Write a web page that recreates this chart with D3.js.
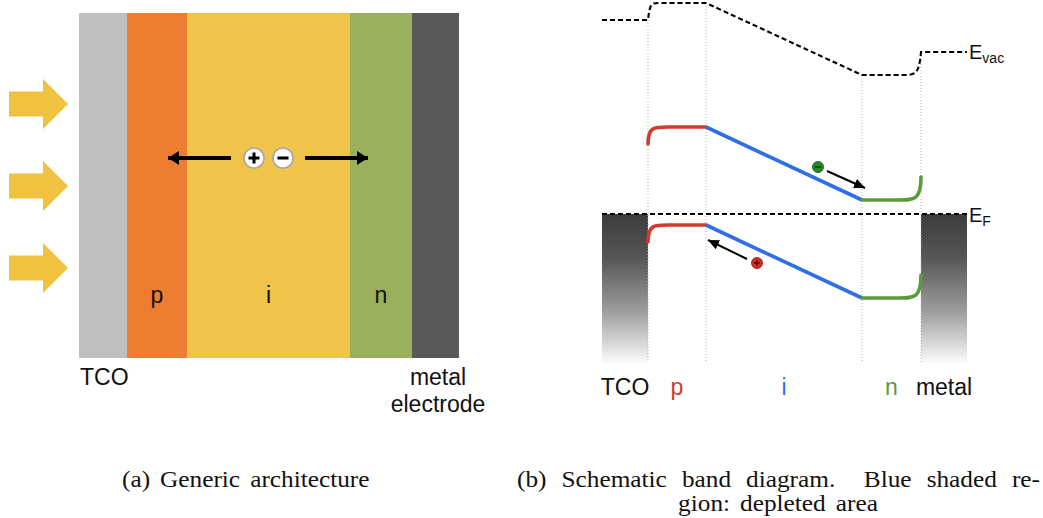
<!DOCTYPE html>
<html>
<head>
<meta charset="utf-8">
<script src="https://cdn.jsdelivr.net/npm/d3@7"></script>
<style>
  html, body { margin: 0; padding: 0; background: #fff; }
  svg { display: block; }
</style>
</head>
<body>
<svg id="fig" width="1043" height="518"></svg>
<script>
// ---------- (a) layer stack ----------
const layerNames  = ["TCO", "p", "i", "n", "metal"];
const layerEdges  = [0, 48, 108, 271, 333, 380];          // cumulative thickness (arb. units)
const layerColors = ["#bfbfbf", "#ed7d31", "#f0c34a", "#9bb05c", "#595959"];
const layerLabels = ["", "p", "i", "n", ""];
const rayRows     = [1, 2, 3];                            // incoming light arrows
const holeDrift   = [152, 89];                            // start, tip (layer units)
const elecDrift   = [226, 289];
const pairCenters = [175, 204];                           // + and − charges

// ---------- (b) band diagram ----------
const bandEdges   = [0, 46, 104, 260, 319, 365];          // TCO | p | i | n | metal
const regionNames = ["TCO", "p", "i", "n", "metal"];
const regionColors = ["#111", "#d33a2c", "#2f6fe6", "#5b9b3d", "#111"];
// levels: [TCO contact, p flat, n flat, metal contact]
const evacLevels  = [3.88, 4.22, 2.78, 3.24];
const cbLevels    = [1.40, 1.74, 0.28, 0.74];
const vbLevels    = [-0.56, -0.22, -1.68, -1.22];
const fermiLevel  = 0;
const contactDepth = -2.98;
const electron    = {x: 216, E: 0.94, from: [225, 0.86], to: [263, 0.52]};
const hole        = {x: 155, E: -0.98, from: [145, -0.90], to: [106, -0.52]};

// ---------- captions ----------
const captionA  = ["(a)", "Generic", "architecture"];
const captionB1 = ["(b)", "Schematic", "band", "diagram.", "Blue", "shaded", "re-"];
const captionB2 = ["gion:", "depleted", "area"];

const svg = d3.select("#fig");
const sans = "'Liberation Sans', Arial, Helvetica, sans-serif";
const serif = "'Liberation Serif', 'Times New Roman', serif";

const defs = svg.append("defs");
const grad = defs.append("linearGradient").attr("id", "contactGrad")
  .attr("x1", 0).attr("y1", 0).attr("x2", 0).attr("y2", 1);
grad.append("stop").attr("offset", "0").attr("stop-color", "#3c3c3c");
grad.append("stop").attr("offset", "0.3").attr("stop-color", "#575757");
grad.append("stop").attr("offset", "0.65").attr("stop-color", "#9c9c9c");
grad.append("stop").attr("offset", "1").attr("stop-color", "#fbfbfb");

function arrowHead(id, len, wid) {
  defs.append("marker").attr("id", id)
    .attr("viewBox", `0 0 ${len} ${wid}`)
    .attr("refX", len).attr("refY", wid / 2)
    .attr("markerWidth", len).attr("markerHeight", wid)
    .attr("markerUnits", "userSpaceOnUse")
    .attr("orient", "auto")
    .append("path").attr("d", `M0,0 L${len},${wid / 2} L0,${wid} Z`).attr("fill", "#000");
}
arrowHead("headBig", 11, 14);
arrowHead("headSmall", 11, 10);

// ===== panel (a) =====
const xA = d3.scaleLinear().domain([0, 380]).range([79, 459]);
const yTop = 13, yBot = 358;
const gA = svg.append("g");

gA.selectAll("rect.layer").data(layerNames).join("rect")
  .attr("class", "layer")
  .attr("x", (d, i) => xA(layerEdges[i]))
  .attr("y", yTop)
  .attr("width", (d, i) => xA(layerEdges[i + 1]) - xA(layerEdges[i]))
  .attr("height", yBot - yTop)
  .attr("fill", (d, i) => layerColors[i]);

gA.selectAll("text.layerLabel").data(layerLabels).join("text")
  .attr("class", "layerLabel")
  .attr("x", (d, i) => (xA(layerEdges[i]) + xA(layerEdges[i + 1])) / 2)
  .attr("y", 303)
  .attr("text-anchor", "middle")
  .attr("font-family", sans).attr("font-size", 23).attr("fill", "#111")
  .text(d => d);

// light arrows
const yRay = d3.scaleLinear().domain([1, 3]).range([104, 268]);
gA.selectAll("path.ray").data(rayRows).join("path")
  .attr("class", "ray")
  .attr("d", r => {
    const c = yRay(r);
    return `M9,${c - 12.5} L43,${c - 12.5} L43,${c - 25} L68,${c} L43,${c + 25} L43,${c + 12.5} L9,${c + 12.5} Z`;
  })
  .attr("fill", "#f0c240");

// carrier separation arrows
const yPair = 158;
gA.append("line").attr("x1", xA(holeDrift[0])).attr("x2", xA(holeDrift[1]))
  .attr("y1", yPair).attr("y2", yPair)
  .attr("stroke", "#000").attr("stroke-width", 4).attr("marker-end", "url(#headBig)");
gA.append("line").attr("x1", xA(elecDrift[0])).attr("x2", xA(elecDrift[1]))
  .attr("y1", yPair).attr("y2", yPair)
  .attr("stroke", "#000").attr("stroke-width", 4).attr("marker-end", "url(#headBig)");

gA.selectAll("circle.charge").data(pairCenters).join("circle")
  .attr("class", "charge")
  .attr("cx", d => xA(d)).attr("cy", yPair).attr("r", 10)
  .attr("fill", "#fff").attr("stroke", "#a8a8a8").attr("stroke-width", 1.6);
gA.append("path")
  .attr("d", `M${xA(pairCenters[0]) - 5.5},${yPair} h11 M${xA(pairCenters[0])},${yPair - 5.5} v11`)
  .attr("stroke", "#000").attr("stroke-width", 3);
gA.append("path")
  .attr("d", `M${xA(pairCenters[1]) - 5.5},${yPair} h11`)
  .attr("stroke", "#000").attr("stroke-width", 3);

gA.append("text").attr("x", 80).attr("y", 385)
  .attr("font-family", sans).attr("font-size", 23).attr("fill", "#111").text("TCO");
gA.append("text").attr("x", 438).attr("y", 385).attr("text-anchor", "middle")
  .attr("font-family", sans).attr("font-size", 23).attr("fill", "#111").text("metal");
gA.append("text").attr("x", 438).attr("y", 412).attr("text-anchor", "middle")
  .attr("font-family", sans).attr("font-size", 23).attr("fill", "#111").text("electrode");

// ===== panel (b) =====
const xB = d3.scaleLinear().domain([0, 365]).range([602, 967]);
const yB = d3.scaleLinear().domain([-3, 4.2]).range([364, 4]);
const gB = svg.append("g");

// contacts filled up to the Fermi level
gB.selectAll("rect.contact").data([[bandEdges[0], bandEdges[1]], [bandEdges[4], bandEdges[5]]]).join("rect")
  .attr("class", "contact")
  .attr("x", d => xB(d[0])).attr("width", d => xB(d[1]) - xB(d[0]))
  .attr("y", yB(fermiLevel)).attr("height", yB(contactDepth) - yB(fermiLevel))
  .attr("fill", "url(#contactGrad)");

// dotted interface guides, from the vacuum level down
gB.selectAll("line.guide").data(bandEdges.slice(1, 5)).join("line")
  .attr("class", "guide")
  .attr("x1", d => xB(d)).attr("x2", d => xB(d))
  .attr("y1", (d, i) => yB(evacLevels[i])).attr("y2", yB(contactDepth) - 1)
  .attr("stroke", "#b5b5b5").attr("stroke-width", 1).attr("stroke-dasharray", "1,2");

// band segment builders
function pSegment(l, bend) {
  const p = d3.path();
  const x1 = xB(bandEdges[1]), x2 = xB(bandEdges[2]);
  p.moveTo(x1, yB(l[0]));
  p.bezierCurveTo(x1, yB(l[1]), x1 + bend * 0.3, yB(l[1]), x1 + bend, yB(l[1]));
  p.lineTo(x2, yB(l[1]));
  return p;
}
function iSegment(l) {
  const p = d3.path();
  p.moveTo(xB(bandEdges[2]), yB(l[1]));
  p.lineTo(xB(bandEdges[3]), yB(l[2]));
  return p;
}
function nSegment(l, bend) {
  const p = d3.path();
  const x3 = xB(bandEdges[3]), x4 = xB(bandEdges[4]);
  p.moveTo(x3, yB(l[2]));
  p.lineTo(x4 - bend, yB(l[2]));
  p.bezierCurveTo(x4 - bend * 0.3, yB(l[2]), x4, yB(l[2]), x4, yB(l[3]));
  return p;
}

// vacuum level (dashed, continuous across the stack)
{
  const p = d3.path();
  const l = evacLevels;
  const x1 = xB(bandEdges[1]), x2 = xB(bandEdges[2]), x3 = xB(bandEdges[3]), x4 = xB(bandEdges[4]);
  const bL = 11, bR = 19;
  p.moveTo(xB(bandEdges[0]), yB(l[0]));
  p.lineTo(x1, yB(l[0]));
  p.bezierCurveTo(x1 + 2, yB(l[1]), x1 + bL * 0.3, yB(l[1]), x1 + bL, yB(l[1]));
  p.lineTo(x2, yB(l[1]));
  p.lineTo(x3, yB(l[2]));
  p.lineTo(x4 - bR, yB(l[2]));
  p.bezierCurveTo(x4 - bR * 0.3, yB(l[2]), x4 - 2, yB(l[2]), x4, yB(l[3]));
  p.lineTo(xB(bandEdges[5]), yB(l[3]));
  gB.append("path").attr("d", p.toString())
    .attr("fill", "none").attr("stroke", "#000").attr("stroke-width", 2.1)
    .attr("stroke-dasharray", "5,3");
}

// Fermi level
gB.append("line")
  .attr("x1", xB(bandEdges[0])).attr("x2", xB(bandEdges[5]))
  .attr("y1", yB(fermiLevel)).attr("y2", yB(fermiLevel))
  .attr("stroke", "#000").attr("stroke-width", 2.1).attr("stroke-dasharray", "5,3");

// conduction and valence bands
[cbLevels, vbLevels].forEach(l => {
  gB.append("path").attr("d", pSegment(l, 20).toString())
    .attr("fill", "none").attr("stroke", regionColors[1]).attr("stroke-width", 3.6).attr("stroke-linecap", "round");
  gB.append("path").attr("d", iSegment(l).toString())
    .attr("fill", "none").attr("stroke", regionColors[2]).attr("stroke-width", 3.6);
  gB.append("path").attr("d", nSegment(l, 22).toString())
    .attr("fill", "none").attr("stroke", regionColors[3]).attr("stroke-width", 3.6).attr("stroke-linecap", "round");
});

// carriers drifting in the built-in field
gB.append("line")
  .attr("x1", xB(electron.from[0])).attr("y1", yB(electron.from[1]))
  .attr("x2", xB(electron.to[0])).attr("y2", yB(electron.to[1]))
  .attr("stroke", "#000").attr("stroke-width", 2).attr("marker-end", "url(#headSmall)");
gB.append("line")
  .attr("x1", xB(hole.from[0])).attr("y1", yB(hole.from[1]))
  .attr("x2", xB(hole.to[0])).attr("y2", yB(hole.to[1]))
  .attr("stroke", "#000").attr("stroke-width", 2).attr("marker-end", "url(#headSmall)");

gB.append("circle").attr("cx", xB(electron.x)).attr("cy", yB(electron.E)).attr("r", 5.5)
  .attr("fill", "#1e8c1e").attr("stroke", "#0d4d0d").attr("stroke-width", 0.8);
gB.append("path").attr("d", `M${xB(electron.x) - 3},${yB(electron.E)} h6`)
  .attr("stroke", "#062806").attr("stroke-width", 1.3);
gB.append("circle").attr("cx", xB(hole.x)).attr("cy", yB(hole.E)).attr("r", 5.5)
  .attr("fill", "#d92a24").attr("stroke", "#8a1010").attr("stroke-width", 0.8);
gB.append("path")
  .attr("d", `M${xB(hole.x) - 3},${yB(hole.E)} h6 M${xB(hole.x)},${yB(hole.E) - 3} v6`)
  .attr("stroke", "#1a0000").attr("stroke-width", 1.1);

// level labels
const evacLabel = gB.append("text").attr("x", 969).attr("y", 59)
  .attr("font-family", sans).attr("font-size", 20).attr("fill", "#111");
evacLabel.append("tspan").text("E");
evacLabel.append("tspan").attr("dy", 4).attr("font-size", 14).text("vac");
const efLabel = gB.append("text").attr("x", 969).attr("y", 222)
  .attr("font-family", sans).attr("font-size", 20).attr("fill", "#111");
efLabel.append("tspan").text("E");
efLabel.append("tspan").attr("dy", 4).attr("font-size", 14).text("F");

// region labels
gB.selectAll("text.region").data(regionNames).join("text")
  .attr("class", "region")
  .attr("x", (d, i) => (xB(bandEdges[i]) + xB(bandEdges[i + 1])) / 2)
  .attr("y", 395)
  .attr("text-anchor", "middle")
  .attr("font-family", sans).attr("font-size", 23)
  .attr("fill", (d, i) => regionColors[i])
  .text(d => d);

// ===== captions (word-by-word so the long line can be justified) =====
const capSize = 23, capStretch = 1.1, capSpace = 10;
function captionLine(words, y, mode, a, b) {
  const g = svg.append("g");
  const items = words.map(w => {
    const t = g.append("text")
      .attr("font-family", serif).attr("font-size", capSize).attr("fill", "#111")
      .text(w);
    return {w, node: t, width: t.node().getComputedTextLength() * capStretch};
  });
  const total = d3.sum(items, d => d.width);
  let x, gaps;
  if (mode === "justify") {
    const weights = items.slice(0, -1).map(d => /\.$/.test(d.w) ? 1.9 : 1);
    const unit = (b - a - total) / d3.sum(weights);
    gaps = weights.map(wt => wt * unit);
    x = a;
  } else {
    gaps = items.slice(0, -1).map(() => capSpace);
    const span = total + d3.sum(gaps);
    x = mode === "center" ? a - span / 2 : a;
  }
  items.forEach((d, i) => {
    d.node.attr("transform", `translate(${x},${y}) scale(${capStretch},1)`);
    x += d.width + (i < gaps.length ? gaps[i] : 0);
  });
}
captionLine(captionA, 487, "left", 122);
captionLine(captionB1, 487, "justify", 517, 1040);
captionLine(captionB2, 511, "center", 778);
</script>
</body>
</html>
